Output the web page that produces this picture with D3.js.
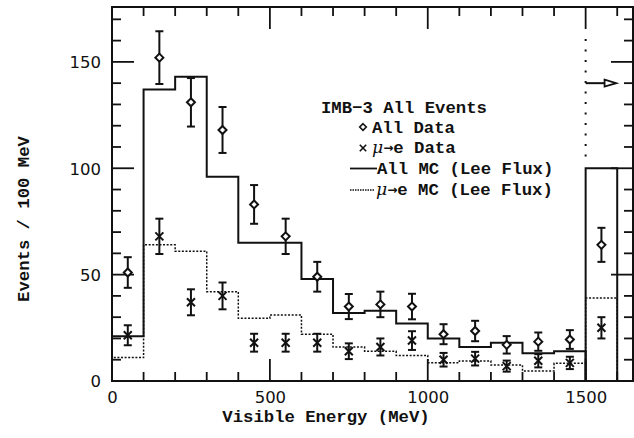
<!DOCTYPE html>
<html>
<head>
<meta charset="utf-8">
<script src="https://cdn.jsdelivr.net/npm/d3@7"></script>
<style>
  html, body { margin: 0; padding: 0; background: #fff; }
  svg { display: block; }
  .mono { font-family: "Liberation Mono", "Courier New", monospace; font-weight: bold; }
  .tick-label { font-family: "DejaVu Sans", sans-serif; font-size: 16.5px; fill: #111; }
</style>
</head>
<body>
<svg id="chart" width="634" height="438"></svg>
<script>
// ---- Data ----
const binLo   = [0, 100, 200, 300, 400, 500, 600, 700, 800, 900, 1000, 1100, 1200, 1300, 1400, 1500];
const binWidth = 100;
const allMC   = [21, 137, 143, 96, 65, 65, 48, 32, 33, 27, 20, 16, 18, 13, 14, 100];
const muMC    = [11, 64, 61, 42, 29.5, 31, 22, 16, 14, 12, 8.6, 9.4, 7.5, 4.7, 8.3, 39];
const allData = [51, 152, 131, 118, 83, 68, 49, 35, 36, 35, 22, 23.5, 17, 18.5, 19.5, 64];
const allErr  = [7.2, 12.4, 11.4, 10.8, 9.1, 8.3, 7, 5.9, 6, 6, 4.7, 4.8, 4.1, 4.3, 4.4, 8];
const muData  = [21.5, 68, 37, 40, 18, 18, 18, 14, 16, 19, 10, 10.5, 7, 9.5, 8.5, 25];
const muErr   = [4.7, 8.3, 6.1, 6.3, 4.2, 4.2, 4.2, 3.7, 4, 4.4, 3.2, 3.2, 2.6, 3.1, 2.9, 5];
const xMajorTicks = [0, 500, 1000, 1500];
const yMajorTicks = [0, 50, 100, 150];
const offscaleValue = 140;   // arrow marker level in overflow region
const legendTitle = "IMB\u22123 All Events";

// ---- Layout ----
const svg = d3.select("#chart");
const L = 112, R = 633, T = 7, B = 381;
const x = d3.scaleLinear().domain([0, 1650]).range([L, R]);
const y = d3.scaleLinear().domain([0, 175.8]).range([B, T]);
const ink = "#111";

// ---- Axes (ticks on all four sides, pointing inward) ----
const xMinor = d3.range(0, 1650, 100);
const yMinor = d3.range(0, 176, 10);
const majLen = 22, minLen = 9;

const axisBottom = d3.axisBottom(x).tickValues(xMajorTicks).tickSize(0).tickFormat(d3.format("d"));
svg.append("g").attr("transform", `translate(0,${B})`).call(axisBottom)
  .call(g => g.select(".domain").remove())
  .call(g => g.selectAll("text").attr("class", "tick-label").attr("dy", null).attr("y", 22));
const axisLeft = d3.axisLeft(y).tickValues(yMajorTicks).tickSize(0).tickFormat(d3.format("d")).tickPadding(11);
svg.append("g").attr("transform", `translate(${L},0)`).call(axisLeft)
  .call(g => g.select(".domain").remove())
  .call(g => g.selectAll("text").attr("class", "tick-label").attr("dy", "0.36em"));

const tg = svg.append("g").attr("stroke", ink).attr("stroke-width", 1.8);
xMinor.forEach(v => {
  const len = (v % 500 === 0) ? majLen : minLen;
  tg.append("line").attr("x1", x(v)).attr("x2", x(v)).attr("y1", B).attr("y2", B - len);
  tg.append("line").attr("x1", x(v)).attr("x2", x(v)).attr("y1", T).attr("y2", T + len);
});
yMinor.forEach(v => {
  const len = (v % 50 === 0) ? majLen : minLen;
  tg.append("line").attr("y1", y(v)).attr("y2", y(v)).attr("x1", L).attr("x2", L + len);
  tg.append("line").attr("y1", y(v)).attr("y2", y(v)).attr("x1", R).attr("x2", R - len);
});

// ---- Histograms ----
function stepPath(vals, from, to) {
  let p = `M${x(binLo[from])},${y(0)}`;
  for (let i = from; i < to; i++) {
    p += `V${y(vals[i])}H${x(binLo[i] + binWidth)}`;
  }
  p += `V${y(0)}`;
  return p;
}
const nMain = binLo.length - 1;
// dotted mu->e MC
svg.append("path").attr("d", stepPath(muMC, 0, nMain)).attr("fill", "none")
  .attr("stroke", ink).attr("stroke-width", 1.5).attr("stroke-dasharray", "2,1.6");
svg.append("path").attr("d", stepPath(muMC, nMain, nMain + 1)).attr("fill", "none")
  .attr("stroke", ink).attr("stroke-width", 1.5).attr("stroke-dasharray", "2,1.6");
// solid all MC
svg.append("path").attr("d", stepPath(allMC, 0, nMain)).attr("fill", "none")
  .attr("stroke", ink).attr("stroke-width", 2);
svg.append("path").attr("d", stepPath(allMC, nMain, nMain + 1)).attr("fill", "none")
  .attr("stroke", ink).attr("stroke-width", 2);

// dotted vertical separator above overflow bin
svg.append("line").attr("x1", x(1500)).attr("x2", x(1500)).attr("y1", T + majLen + 10).attr("y2", y(allMC[nMain]) - 6)
  .attr("stroke", ink).attr("stroke-width", 2).attr("stroke-dasharray", "2,8.5");

// off-scale arrow
const ay = y(offscaleValue);
svg.append("line").attr("x1", x(1500)).attr("x2", x(1560)).attr("y1", ay).attr("y2", ay)
  .attr("stroke", ink).attr("stroke-width", 2);
svg.append("path").attr("d", `M${x(1560)},${ay - 3.5}L${x(1597)},${ay}L${x(1560)},${ay + 3.5}Z`)
  .attr("fill", "#fff").attr("stroke", ink).attr("stroke-width", 1.8);

// ---- Data points ----
const cx = i => x(binLo[i] + binWidth / 2);
function errBar(g, xc, v, e) {
  g.append("line").attr("x1", xc).attr("x2", xc).attr("y1", y(v - e)).attr("y2", y(v + e));
  g.append("line").attr("x1", xc - 4).attr("x2", xc + 4).attr("y1", y(v - e)).attr("y2", y(v - e));
  g.append("line").attr("x1", xc - 4).attr("x2", xc + 4).attr("y1", y(v + e)).attr("y2", y(v + e));
}
function diamond(g, xc, yc, r) {
  g.append("path").attr("d", `M${xc},${yc - r}L${xc + r},${yc}L${xc},${yc + r}L${xc - r},${yc}Z`)
    .attr("fill", "#fff");
}
function cross(g, xc, yc, r) {
  g.append("path").attr("d", `M${xc - r},${yc - r}L${xc + r},${yc + r}M${xc - r},${yc + r}L${xc + r},${yc - r}`);
}
const pg = svg.append("g").attr("stroke", ink).attr("stroke-width", 2).attr("fill", "none");
muData.forEach((v, i) => { errBar(pg, cx(i), v, muErr[i]); cross(pg, cx(i), y(v), 4); });
allData.forEach((v, i) => { errBar(pg, cx(i), v, allErr[i]); });
allData.forEach((v, i) => { diamond(pg, cx(i), y(v), 4); });

// ---- Frame ----
svg.append("rect").attr("x", L).attr("y", T).attr("width", R - L).attr("height", B - T)
  .attr("fill", "none").attr("stroke", ink).attr("stroke-width", 2);

// ---- Axis titles ----
svg.append("text").attr("class", "mono").attr("x", 326).attr("y", 422).attr("text-anchor", "middle")
  .attr("font-size", 17.3).attr("fill", ink).text("Visible Energy (MeV)");
svg.append("text").attr("class", "mono").attr("transform", "translate(29,219) rotate(-90)")
  .attr("text-anchor", "middle").attr("font-size", 17.3).attr("fill", ink).text("Events / 100 MeV");

// ---- Legend ----
const lg = svg.append("g").attr("class", "mono").attr("font-size", 17.3).attr("fill", ink);
lg.append("text").attr("x", 321).attr("y", 113).text(legendTitle);
function muArrow(t, rest) {
  t.append("tspan").attr("font-family", "DejaVu Serif, serif").attr("font-style", "italic").attr("font-weight", "normal").text("\u03bc");
  t.append("tspan").attr("font-family", "DejaVu Sans, sans-serif").attr("font-size", 12).attr("dy", -1).text("\u2192");
  t.append("tspan").attr("dy", 1).text(rest);
}
lg.append("text").attr("x", 372).attr("y", 133).text("All Data");
const t2 = lg.append("text").attr("x", 372).attr("y", 153); muArrow(t2, "e Data");
lg.append("text").attr("x", 377).attr("y", 174).text("All MC (Lee Flux)");
const t4 = lg.append("text").attr("x", 376).attr("y", 195); muArrow(t4, "e MC (Lee Flux)");
const lgm = svg.append("g").attr("stroke", ink).attr("stroke-width", 1.6).attr("fill", "none");
diamond(lgm, 363, 127, 3.3);
cross(lgm, 363, 148, 3.2);
lgm.append("line").attr("x1", 350).attr("x2", 377).attr("y1", 168.5).attr("y2", 168.5).attr("stroke-width", 1.8);
lgm.append("line").attr("x1", 350).attr("x2", 375).attr("y1", 190).attr("y2", 190).attr("stroke-width", 1.3).attr("stroke-dasharray", "1.5,1");
</script>
</body>
</html>
